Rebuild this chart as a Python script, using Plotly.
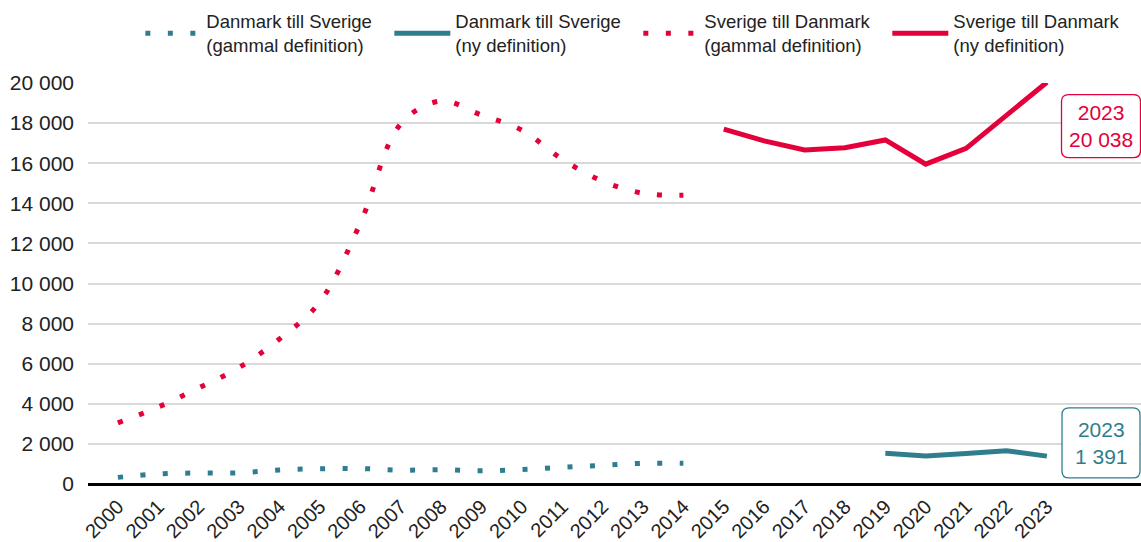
import plotly.graph_objects as go

# ---- data ----
years_old = list(range(2000, 2015))
years_new_se_dk = list(range(2015, 2024))
years_new_dk_se = list(range(2019, 2024))
all_years = list(range(2000, 2024))

dk_se_old = [330, 500, 550, 560, 700, 760, 770, 690, 710, 660, 720, 830, 930, 1030, 1030]
se_dk_old = [3050, 3840, 4790, 5810, 7230, 9080, 13000, 17950, 19100, 18400, 17650, 16200, 15100, 14500, 14400]
dk_se_new = [1530, 1400, 1520, 1660, 1391]
se_dk_new = [17700, 17110, 16660, 16770, 17160, 15950, 16740, 18400, 20038]

y_ticks = [0, 2000, 4000, 6000, 8000, 10000, 12000, 14000, 16000, 18000, 20000]

RED = "#E4003B"
TEAL = "#2F7E8E"
FONT = "Liberation Sans, Arial, sans-serif"

def fmt(v):
    return f"{v:,}".replace(",", " ")

def lname(a, b):
    return f"{a}<br>{b}"

fig = go.Figure()
fig.add_trace(go.Scatter(x=years_old, y=dk_se_old, mode="lines",
                         name=lname("Danmark till Sverige", "(gammal definition)"),
                         line=dict(color=TEAL, width=5, dash="5px,17.5px", shape="spline"),
                         cliponaxis=False))
fig.add_trace(go.Scatter(x=years_new_dk_se, y=dk_se_new, mode="lines",
                         name=lname("Danmark till Sverige", "(ny definition)"),
                         line=dict(color=TEAL, width=5), cliponaxis=False))
fig.add_trace(go.Scatter(x=years_old, y=se_dk_old, mode="lines",
                         name=lname("Sverige till Danmark", "(gammal definition)"),
                         line=dict(color=RED, width=5, dash="5px,17.5px", shape="spline"),
                         cliponaxis=False))
fig.add_trace(go.Scatter(x=years_new_se_dk, y=se_dk_new, mode="lines",
                         name=lname("Sverige till Danmark", "(ny definition)"),
                         line=dict(color=RED, width=5), cliponaxis=False))

def rounded_box(xc, yc, w, h, r, color):
    hw, hh = w / 2, h / 2
    path = (f"M {-hw + r},{-hh} L {hw - r},{-hh} Q {hw},{-hh} {hw},{-hh + r} "
            f"L {hw},{hh - r} Q {hw},{hh} {hw - r},{hh} L {-hw + r},{hh} "
            f"Q {-hw},{hh} {-hw},{hh - r} L {-hw},{-hh + r} Q {-hw},{-hh} {-hw + r},{-hh} Z")
    fig.add_shape(type="path", xref="x", yref="y", xsizemode="pixel", ysizemode="pixel",
                  xanchor=xc, yanchor=yc, path=path, fillcolor="white",
                  line=dict(color=color, width=1.3), layer="above")

# label boxes
rounded_box(2024.34, 17850, 79, 63, 7, RED)
rounded_box(2024.34, 2050, 78, 70, 7, TEAL)
fig.add_annotation(x=2024.34, y=17850, xref="x", yref="y", showarrow=False,
                   text=f"{years_new_se_dk[-1]}<br>{fmt(se_dk_new[-1])}",
                   font=dict(color=RED, size=21, family=FONT), align="center")
fig.add_annotation(x=2024.34, y=2050, xref="x", yref="y", showarrow=False,
                   text=f"{years_new_dk_se[-1]}<br>{fmt(dk_se_new[-1])}",
                   font=dict(color=TEAL, size=21, family=FONT), align="center")

fig.update_layout(
    width=1141, height=542,
    margin=dict(l=88, r=0, t=83, b=58, autoexpand=False),
    paper_bgcolor="white", plot_bgcolor="white",
    font=dict(family=FONT, color="#222222", size=19),
    separators=", ",
    showlegend=True,
    legend=dict(orientation="h", xref="container", yref="container",
                x=0.123, y=0.995, xanchor="left", yanchor="top",
                font=dict(size=18.5, color="#222222"),
                entrywidth=178, entrywidthmode="pixels", itemwidth=56,
                bgcolor="rgba(0,0,0,0)"),
    xaxis=dict(range=[1999.26, 2025.33], tickmode="array", tickvals=all_years,
               ticktext=[str(y) for y in all_years], tickangle=-45,
               showgrid=False, zeroline=False, showline=False,
               tickfont=dict(size=20, color="#222222"), ticks="",
               ticklabelstandoff=6),
    yaxis=dict(range=[0, 20000], tickmode="array", tickvals=y_ticks,
               ticktext=[fmt(v) for v in y_ticks],
               showgrid=True, gridcolor="#D9D9D9", gridwidth=1.5,
               zeroline=True, zerolinecolor="black", zerolinewidth=3,
               showline=False, ticks="", ticklabelstandoff=13,
               tickfont=dict(size=21, color="#222222")),
)

fig.write_html("out.html", config={"displayModeBar": False},
               post_script="document.body.style.margin='0';")
